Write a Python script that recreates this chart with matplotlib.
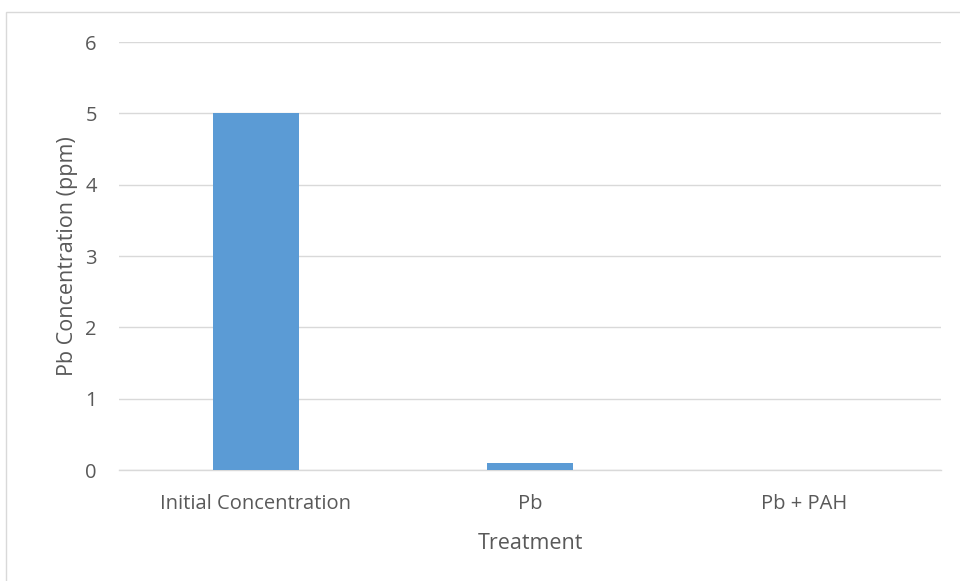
import matplotlib.pyplot as plt
import matplotlib.patches as mpatches

plt.rcParams['font.family'] = ['Open Sans', 'DejaVu Sans']

# Datos
tratamientos = ['Initial Concentration', 'Pb', 'Pb + PAH']
concentracion = [5.0, 0.1, 0.0]

fig = plt.figure(figsize=(9.6, 5.81), dpi=100)
ax = fig.add_axes([119/960, 1 - 470/581, (941 - 119)/960, (470 - 42)/581])

x = range(len(tratamientos))
ax.bar(x, concentracion, width=0.315, color='#5B9BD5', zorder=3)

ax.set_xlim(-0.5, 2.5)
ax.set_ylim(0, 6)
ax.set_yticks(range(0, 7))
ax.set_xticks(list(x))
ax.set_xticklabels(tratamientos)

ax.grid(axis='y', color='#D9D9D9', linewidth=1, zorder=0)
for s in ['top', 'right', 'left']:
    ax.spines[s].set_visible(False)
ax.spines['bottom'].set_color('#D9D9D9')
ax.spines['bottom'].set_linewidth(1)
ax.tick_params(axis='both', length=0, labelsize=14.5, colors='#595959')
ax.tick_params(axis='x', pad=17)
ax.tick_params(axis='y', pad=16)

ax.set_xlabel('Treatment', fontsize=15.5, color='#595959', labelpad=14)
ax.set_ylabel('Pb Concentration (ppm)', fontsize=15.5, color='#595959', labelpad=5)

# Borde del área del gráfico
borde = mpatches.Rectangle((6/960, -0.1), 1.1, 1 - 12/581 + 0.1, transform=fig.transFigure,
                           fill=False, edgecolor='#D9D9D9', linewidth=1, clip_on=False)
fig.patches.append(borde)

fig.savefig('out.png', dpi=100, facecolor='white')
